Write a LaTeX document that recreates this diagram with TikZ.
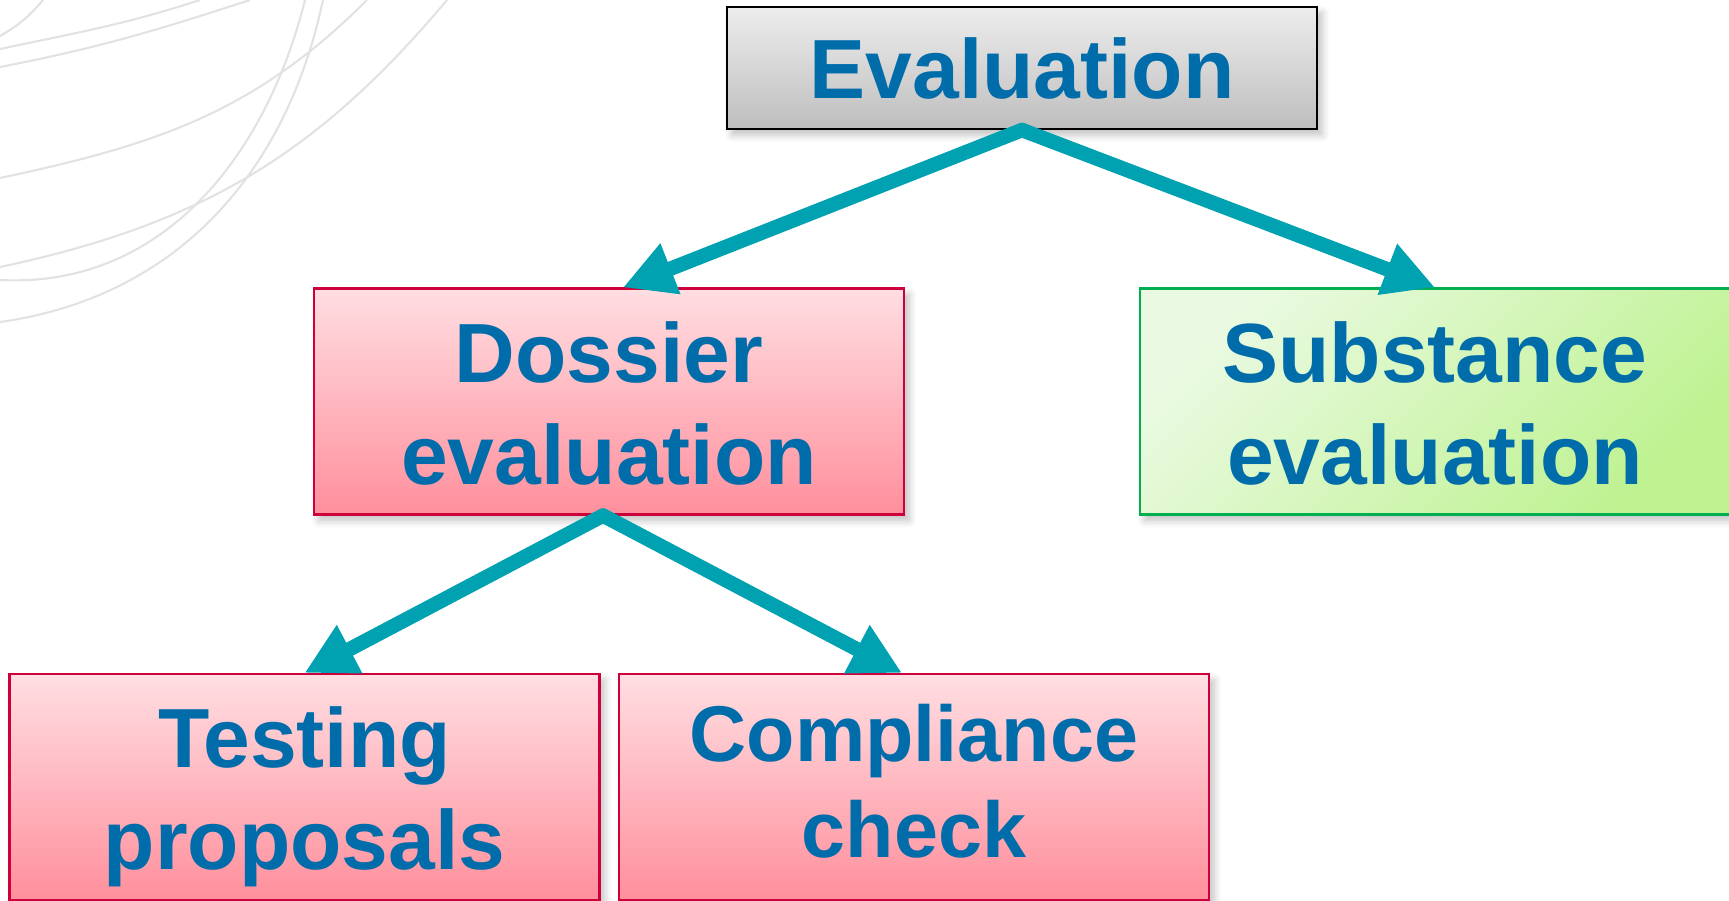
\documentclass[tikz,border=0pt]{standalone}
\usepackage{fontspec}
\setmainfont{Liberation Sans}
\usepackage{tikz}
\usetikzlibrary{arrows.meta,shadows.blur}

\definecolor{txtblue}{RGB}{0,108,170}
\definecolor{arrteal}{RGB}{0,161,176}
\definecolor{arcgray}{RGB}{226,226,226}
\definecolor{redline}{RGB}{205,0,60}
\definecolor{pinktop}{RGB}{255,222,226}
\definecolor{pinkbot}{RGB}{255,143,156}
\definecolor{greenline}{RGB}{0,176,80}
\definecolor{greentop}{RGB}{234,250,226}
\definecolor{greenbot}{RGB}{190,242,145}
\definecolor{graytop}{RGB}{237,237,237}
\definecolor{graybot}{RGB}{190,190,190}

\begin{document}
\begin{tikzpicture}[
	box/.style={rectangle, minimum width=5.9cm, minimum height=2.26cm, inner sep=0pt, align=center,
		text=txtblue, font=\fontsize{23.9}{29}\selectfont\bfseries, line width=0.6pt,
		text height=16.5mm, text depth=0pt,
		blur shadow={shadow xshift=0.5mm, shadow yshift=-0.6mm, shadow opacity=25, shadow blur steps=6}},
	redbox/.style={box, draw=redline, top color=pinktop, bottom color=pinkbot},
	link/.style={line width=1.45mm, arrteal, line cap=round, -{Triangle[length=5.1mm,width=5.1mm]}}
	]
	\useasboundingbox (0,0) rectangle (17.29,9);
	\clip (0,0) rectangle (17.29,9);
	
	% background arcs
	\draw [arcgray, line width=0.6pt] (0,8.64) to [out=30, in=230] (0.43,9);
	\draw [arcgray, line width=0.6pt] (0,8.51) to [out=12, in=198] (2,9);
	\draw [arcgray, line width=0.6pt] (0,8.33) to [out=11, in=198] (2.5,9);
	\draw [arcgray, line width=0.6pt] (0,7.22) to [out=12, in=225] (3.67,9);
	\draw [arcgray, line width=0.6pt] (0,6.33) to [out=12, in=230] (4.47,9);
	\draw [arcgray, line width=0.6pt] (0,6.2) to [out=-3, in=256] (3.05,9);
	\draw [arcgray, line width=0.6pt] (0,5.78) to [out=8, in=258] (3.23,9);
	
	\node [box, draw=black, minimum height=1.22cm, text height=6.2mm, top color=graytop, bottom color=graybot] (eval) at (10.22,8.32) {Evaluation};
	\node [redbox] (dossier) at (6.09,4.985) {Dossier\\evaluation};
	\node [box, draw=greenline, top color=greentop, bottom color=greenbot, shading angle=45] (subst) at (14.35,4.985) {Substance\\evaluation};
	\node [redbox] (testing) at (3.045,1.13) {Testing\\proposals};
	\node [redbox, font=\fontsize{22.5}{27.3}\selectfont\bfseries, text height=14mm] (compl) at (9.14,1.13) {Compliance\\check};
	
	\draw [link] (eval.south) -- ([xshift=1.4mm]dossier.north);
	\draw [link] (eval.south) -- (subst.north);
	\draw [link] ([xshift=-0.6mm]dossier.south) -- (testing.north);
	\draw [link] ([xshift=-0.6mm]dossier.south) -- ([xshift=-1.2mm]compl.north);
\end{tikzpicture}
\end{document}
